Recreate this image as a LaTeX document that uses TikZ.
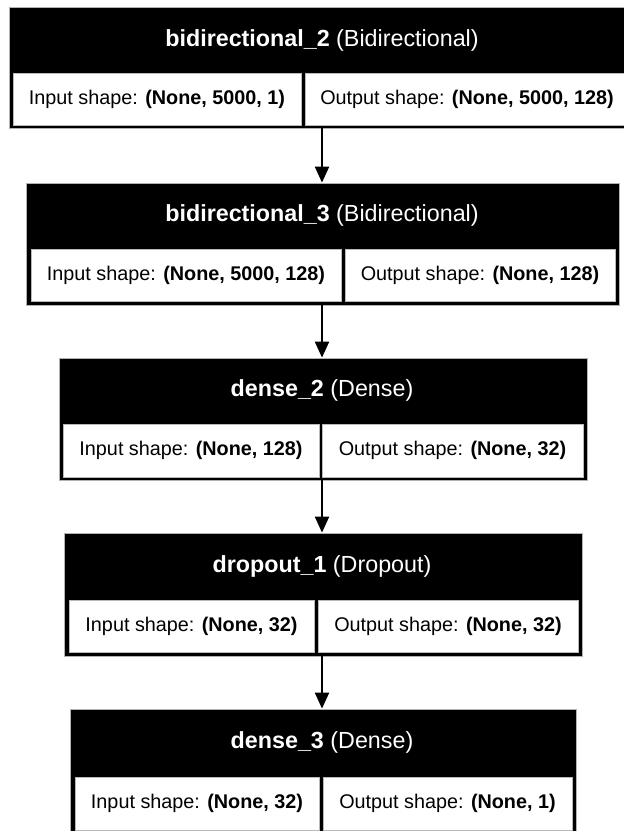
\documentclass[tikz,border=0pt]{standalone}
\usepackage{fontspec}
\setmainfont{Liberation Sans}
\usetikzlibrary{arrows.meta}
\tikzset{
  outerbox/.style={fill=black, draw=gray!60, line width=0.8pt, inner sep=0pt, rectangle},
  headtext/.style={text=white, inner sep=0pt, font=\fontsize{23.3}{28}\selectfont},
  cellbox/.style={fill=white, draw=gray!55, line width=0.6pt, inner sep=0pt, rectangle, font=\fontsize{19.8}{24}\selectfont},
  arr/.style={line width=2.2pt, -{Triangle[width=14pt,length=16pt]}}
}
\begin{document}
\begin{tikzpicture}[x=1pt,y=-1pt]
\path[use as bounding box, clip] (0,0) rectangle (624,831);
\fill[white] (0,0) rectangle (624,831);

% Box 1
\node[outerbox, minimum width=624pt, minimum height=121pt] (b1) at (321,67.5) {};
\node[headtext] (h1) at (322,40) {\textbf{bidirectional\_2} (Bidirectional)};
\node[cellbox, minimum width=288pt, minimum height=52pt] (i1) at (157,99) {Input shape: \textbf{(None, 5000, 1)}};
\node[cellbox, minimum width=324pt, minimum height=52pt] (o1) at (467,99) {Output shape: \textbf{(None, 5000, 128)}};

% Box 2
\node[outerbox, minimum width=593pt, minimum height=122pt] (b2) at (322.5,244) {};
\node[headtext] (h2) at (322,215.5) {\textbf{bidirectional\_3} (Bidirectional)};
\node[cellbox, minimum width=310pt, minimum height=52pt] (i2) at (186,275) {Input shape: \textbf{(None, 5000, 128)}};
\node[cellbox, minimum width=270pt, minimum height=52pt] (o2) at (480,275) {Output shape: \textbf{(None, 128)}};

% Box 3
\node[outerbox, minimum width=528pt, minimum height=122pt] (b3) at (323,419) {};
\node[headtext] (h3) at (322,390.5) {\textbf{dense\_2} (Dense)};
\node[cellbox, minimum width=256pt, minimum height=53pt] (i3) at (191,450.5) {Input shape: \textbf{(None, 128)}};
\node[cellbox, minimum width=261pt, minimum height=53pt] (o3) at (452.5,450.5) {Output shape: \textbf{(None, 32)}};

% Box 4
\node[outerbox, minimum width=518pt, minimum height=123pt] (b4) at (323,594.5) {};
\node[headtext] (h4) at (322,566) {\textbf{dropout\_1} (Dropout)};
\node[cellbox, minimum width=245pt, minimum height=52pt] (i4) at (191.5,626) {Input shape: \textbf{(None, 32)}};
\node[cellbox, minimum width=260pt, minimum height=52pt] (o4) at (448,626) {Output shape: \textbf{(None, 32)}};

% Box 5
\node[outerbox, minimum width=506pt, minimum height=125pt] (b5) at (323,771.5) {};
\node[headtext] (h5) at (322,742.5) {\textbf{dense\_3} (Dense)};
\node[cellbox, minimum width=244pt, minimum height=53pt] (i5) at (197,803.5) {Input shape: \textbf{(None, 32)}};
\node[cellbox, minimum width=249pt, minimum height=53pt] (o5) at (447.5,803.5) {Output shape: \textbf{(None, 1)}};

% Arrows
\coordinate (ax) at (322,0);
\draw[arr] (b1.south -| ax) -- (b2.north -| ax);
\draw[arr] (b2.south -| ax) -- (b3.north -| ax);
\draw[arr] (b3.south -| ax) -- (b4.north -| ax);
\draw[arr] (b4.south -| ax) -- (b5.north -| ax);
\end{tikzpicture}
\end{document}
